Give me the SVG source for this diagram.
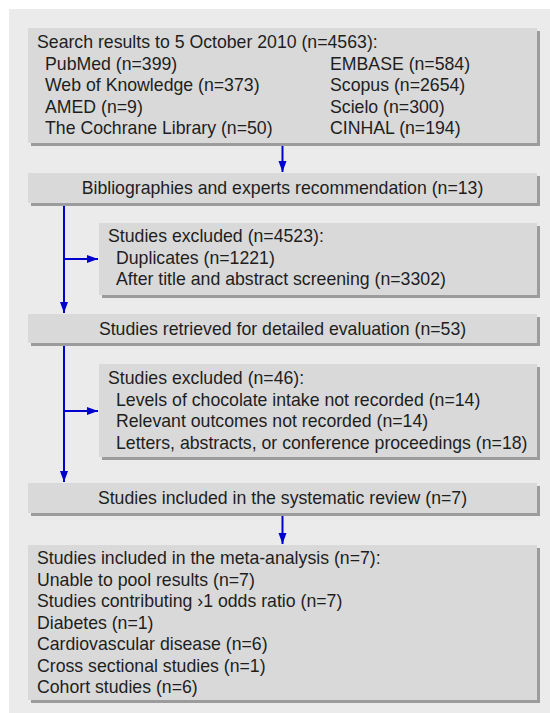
<svg xmlns="http://www.w3.org/2000/svg" width="550" height="713" viewBox="0 0 550 713">
<defs>
<style>
.bg{fill:#ebebeb}
.sh{fill:#9c9c9c}
.bx{fill:#d9d9d9}
text{font-family:"Liberation Sans",Arial,sans-serif;font-size:17.7px;fill:#1e1e1e}
.c{text-anchor:middle}
.ln{stroke:#0000cc;stroke-width:2;fill:none}
</style>
<marker id="ah" markerUnits="userSpaceOnUse" markerWidth="12" markerHeight="10" refX="11" refY="4" orient="auto">
<path d="M0,0 L11,4 L0,8 z" fill="#0000cc"/>
</marker>
</defs>
<rect class="bg" x="9" y="9" width="541" height="704"/>

<g id="search">
<rect class="sh" x="31" y="31" width="509" height="115"/>
<rect class="bx" x="28" y="28" width="509" height="115"/>
<text x="37" y="48">Search results to 5 October 2010 (n=4563):</text>
<text x="45" y="69.5">PubMed (n=399)</text>
<text x="45" y="91">Web of Knowledge (n=373)</text>
<text x="45" y="112.5">AMED (n=9)</text>
<text x="45" y="134">The Cochrane Library (n=50)</text>
<text x="330" y="69.5">EMBASE (n=584)</text>
<text x="330" y="91">Scopus (n=2654)</text>
<text x="330" y="112.5">Scielo (n=300)</text>
<text x="330" y="134">CINHAL (n=194)</text>
</g>

<g id="biblio">
<rect class="sh" x="31" y="176" width="509" height="30"/>
<rect class="bx" x="28" y="173" width="509" height="30"/>
<text class="c" x="282.5" y="194">Bibliographies and experts recommendation (n=13)</text>
</g>

<g id="excluded1">
<rect class="sh" x="102" y="226" width="438" height="72"/>
<rect class="bx" x="99" y="223" width="438" height="72"/>
<text x="108" y="242">Studies excluded (n=4523):</text>
<text x="116" y="263.5">Duplicates (n=1221)</text>
<text x="116" y="285">After title and abstract screening (n=3302)</text>
</g>

<g id="retrieved">
<rect class="sh" x="31" y="317" width="509" height="29"/>
<rect class="bx" x="28" y="314" width="509" height="29"/>
<text class="c" x="282.5" y="334.5">Studies retrieved for detailed evaluation (n=53)</text>
</g>

<g id="excluded2">
<rect class="sh" x="102" y="367" width="438" height="93"/>
<rect class="bx" x="99" y="364" width="438" height="93"/>
<text x="108" y="384">Studies excluded (n=46):</text>
<text x="116" y="405.5">Levels of chocolate intake not recorded (n=14)</text>
<text x="116" y="427">Relevant outcomes not recorded (n=14)</text>
<text x="116" y="448.5">Letters, abstracts, or conference proceedings (n=18)</text>
</g>

<g id="systematic">
<rect class="sh" x="31" y="486" width="509" height="30"/>
<rect class="bx" x="28" y="483" width="509" height="30"/>
<text class="c" x="282.5" y="504">Studies included in the systematic review (n=7)</text>
</g>

<g id="meta">
<rect class="sh" x="31" y="548" width="509" height="155"/>
<rect class="bx" x="28" y="545" width="509" height="155"/>
<text x="37" y="564">Studies included in the meta-analysis (n=7):</text>
<text x="37" y="585.5">Unable to pool results (n=7)</text>
<text x="37" y="607">Studies contributing ›1 odds ratio (n=7)</text>
<text x="37" y="628.5">Diabetes (n=1)</text>
<text x="37" y="650">Cardiovascular disease (n=6)</text>
<text x="37" y="671.5">Cross sectional studies (n=1)</text>
<text x="37" y="693">Cohort studies (n=6)</text>
</g>

<g id="connectors">
<line class="ln" x1="282.5" y1="146" x2="282.5" y2="172" marker-end="url(#ah)"/>
<line class="ln" x1="64" y1="206" x2="64" y2="313" marker-end="url(#ah)"/>
<line class="ln" x1="64" y1="259" x2="98" y2="259" marker-end="url(#ah)"/>
<line class="ln" x1="64" y1="346" x2="64" y2="482" marker-end="url(#ah)"/>
<line class="ln" x1="64" y1="411" x2="98" y2="411" marker-end="url(#ah)"/>
<line class="ln" x1="282.5" y1="516" x2="282.5" y2="544" marker-end="url(#ah)"/>
</g>
</svg>
